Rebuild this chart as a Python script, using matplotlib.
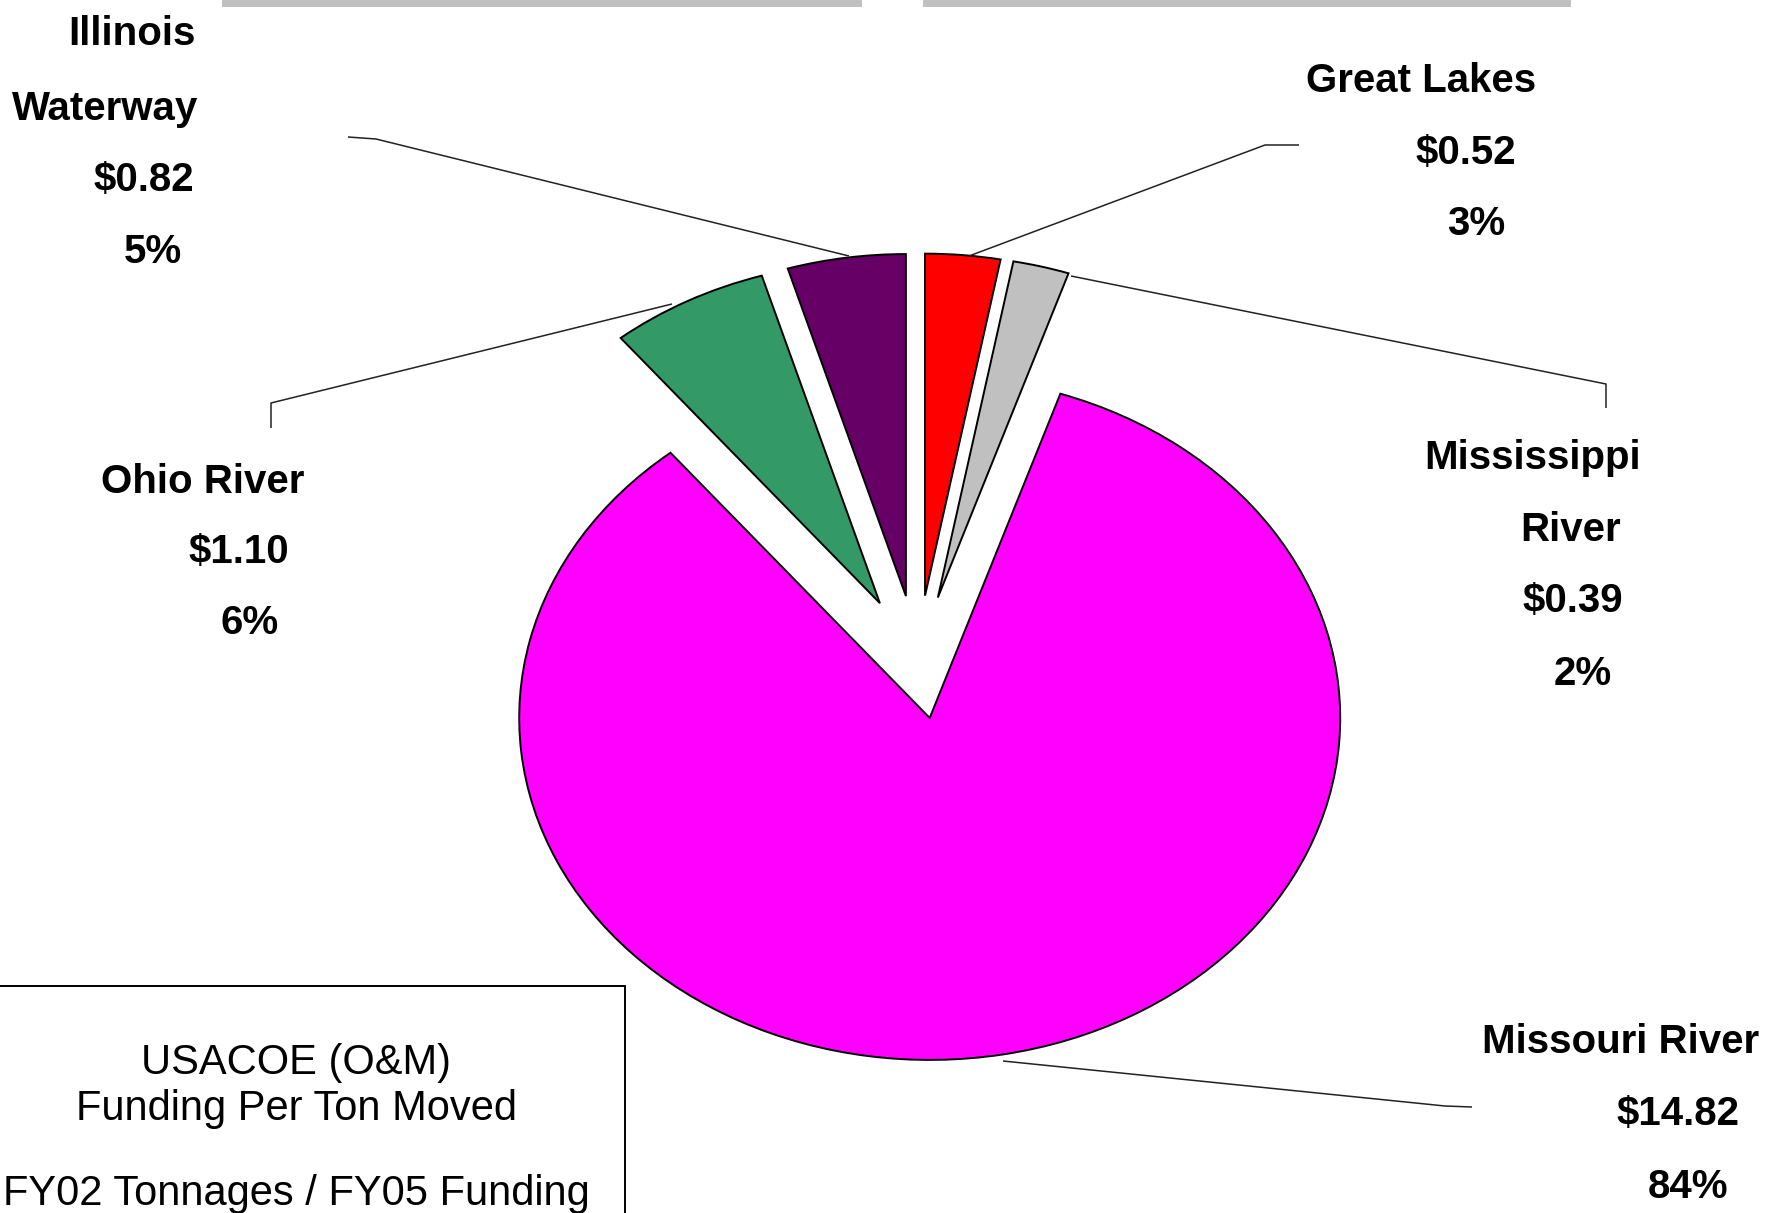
import matplotlib
matplotlib.use("Agg")
import matplotlib.pyplot as plt
from matplotlib.patches import Rectangle

# ---------------- data ----------------
regions = ["Great Lakes", "Mississippi River", "Missouri River", "Ohio River", "Illinois Waterway"]
label_names = [["Great Lakes"], ["Mississippi", "River"], ["Missouri River"], ["Ohio River"], ["Illinois", "Waterway"]]
cost_per_ton = [0.52, 0.39, 14.82, 1.10, 0.82]
slice_colors = ["#FF0000", "#C0C0C0", "#FF00FF", "#339966", "#660066"]
box_lines = ["USACOE (O&M)", "Funding Per Ton Moved", "FY02 Tonnages / FY05 Funding"]

# ---------------- layout (pixels) ----------------
W, H = 1778, 1213
pie_cx, pie_cy, pie_rx, pie_ry = 917.6, 662.4, 410.5, 342.0
explode = [0.196, 0.196, 0.165, 0.196, 0.196]

# label line positions: (center x, baseline y) for each line of each label
label_pos = [
    [(1421, 92), (1466, 164), (1476, 235)],
    [(1533, 469), (1571, 541), (1573, 612), (1583, 685)],
    [(1621, 1053), (1678, 1125), (1688, 1198)],
    [(203, 493), (239, 563), (250, 634)],
    [(132, 45), (105, 120), (144, 191), (153, 263)],
]
leaders = [
    [(969, 256), (1265, 145), (1299, 145)],
    [(1071, 276), (1606, 384), (1606, 408)],
    [(1003, 1061), (1445, 1106), (1472, 1107)],
    [(672, 304), (271, 403), (271, 428)],
    [(849, 256), (376, 139), (348, 137)],
]

label_font = ["Liberation Sans", "DejaVu Sans"]
box_font = ["Liberation Sans", "DejaVu Sans"]

fig = plt.figure(figsize=(W / 100, H / 100), dpi=100)
fig.patch.set_facecolor("white")

# pie axes: data units scaled so radius 1 -> elliptical pie
ax = fig.add_axes([0, 0, 1, 1])
wedges, _ = ax.pie(cost_per_ton, colors=slice_colors, startangle=90, counterclock=False,
                   explode=explode, radius=1.0, center=(0, 0),
                   wedgeprops=dict(edgecolor="black", linewidth=1.4), frame=False)
ax.set_aspect("auto")
ax.set_xlim(-pie_cx / pie_rx, (W - pie_cx) / pie_rx)
ax.set_ylim((pie_cy - H) / pie_ry, pie_cy / pie_ry)
ax.axis("off")

# overlay axes in pixel coordinates
ov = fig.add_axes([0, 0, 1, 1], facecolor="none")
ov.set_xlim(0, W)
ov.set_ylim(H, 0)
ov.axis("off")

# gray bars at top
ov.add_patch(Rectangle((222, -2), 640, 9, facecolor="#C0C0C0", edgecolor="none"))
ov.add_patch(Rectangle((923, -2), 648, 9, facecolor="#C0C0C0", edgecolor="none"))

total = sum(cost_per_ton)
for names, val, pos, lead in zip(label_names, cost_per_ton, label_pos, leaders):
    pct = round(val / total * 100)
    lines = names + [f"${val:.2f}", f"{pct}%"]
    for txt, (x, y) in zip(lines, pos):
        ov.text(x, y, txt, ha="center", va="baseline", fontsize=29, fontweight="bold",
                family=label_font, color="black")
    xs = [p[0] for p in lead]
    ys = [p[1] for p in lead]
    ov.plot(xs, ys, color="#222222", linewidth=1.1, solid_capstyle="butt")

# info box
ov.add_patch(Rectangle((-10, 986), 635, 300, facecolor="white", edgecolor="black", linewidth=1.4))
for txt, y in zip(box_lines, [1074, 1120, 1205]):
    ov.text(296, y, txt, ha="center", va="baseline", fontsize=30, family=box_font, color="black")

fig.savefig("out.png", dpi=100, facecolor="white")
